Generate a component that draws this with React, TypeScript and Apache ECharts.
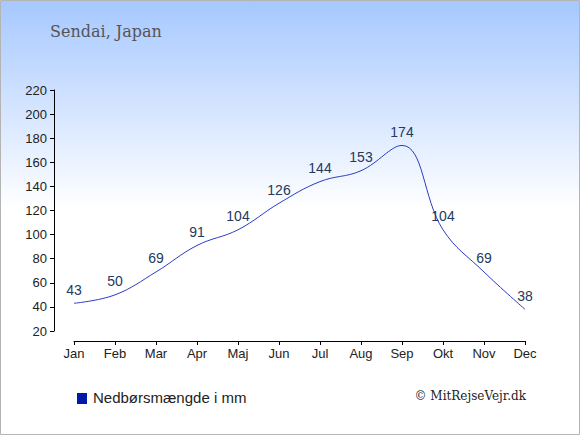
import React, { useEffect, useRef } from "react";
import * as echarts from "echarts";

const months = ["Jan", "Feb", "Mar", "Apr", "Maj", "Jun", "Jul", "Aug", "Sep", "Okt", "Nov", "Dec"];
const precipitation = [43, 50, 69, 91, 104, 126, 144, 153, 174, 104, 69, 38];
const titleText = "Sendai, Japan";
const legendText = "Nedbørsmængde i mm";
const creditText = "© MitRejseVejr.dk";

export default function App() {
  const ref = useRef<HTMLDivElement>(null);
  useEffect(() => {
    document.body.style.margin = "0";
    const chart = echarts.init(ref.current!, null, { renderer: "svg" });
    chart.setOption({
      animation: false,
      graphic: [
        {
          type: "rect",
          z: -10,
          silent: true,
          shape: { x: 0.5, y: 0.5, width: 579, height: 434 },
          style: {
            fill: new echarts.graphic.LinearGradient(0, 0, 0, 1, [
              { offset: 0, color: "#a6c8ff" },
              { offset: 0.48, color: "#ffffff" },
              { offset: 1, color: "#ffffff" },
            ]),
            stroke: "#b4b4b4",
            lineWidth: 1,
          },
        },
        {
          type: "text",
          left: 50,
          top: 23,
          style: { text: titleText, fill: "#555555", fontSize: 16, fontFamily: "DejaVu Serif" },
        },
        {
          type: "rect",
          left: 77,
          top: 393,
          shape: { width: 10, height: 11 },
          style: { fill: "#0019a8" },
        },
        {
          type: "text",
          left: 93,
          top: 390,
          style: { text: legendText, fill: "#222222", fontSize: 15, fontFamily: "Liberation Sans" },
        },
        {
          type: "text",
          right: 54,
          top: 390,
          style: { text: creditText, fill: "#222222", fontSize: 12, fontFamily: "DejaVu Serif" },
        },
      ],
      grid: { left: 74, right: 55, top: 90, bottom: 104 },
      xAxis: {
        type: "category",
        data: months,
        boundaryGap: false,
        offset: 10,
        axisLine: { lineStyle: { color: "#000000", width: 1 } },
        axisTick: { length: 4, alignWithLabel: true, lineStyle: { color: "#000" } },
        axisLabel: { color: "#222222", fontSize: 13, fontFamily: "Liberation Sans", margin: 6 },
        splitLine: { show: false },
      },
      yAxis: {
        type: "value",
        min: 20,
        max: 220,
        interval: 20,
        offset: 20,
        axisLine: { show: true, lineStyle: { color: "#000000", width: 1 } },
        axisTick: { show: true, length: 4, lineStyle: { color: "#000" } },
        axisLabel: { color: "#222222", fontSize: 13, fontFamily: "Liberation Sans", margin: 7 },
        splitLine: { show: false },
      },
      series: [
        {
          type: "line",
          data: precipitation,
          smooth: 0.4,
          showSymbol: true,
          symbol: "circle",
          symbolSize: 1,
          itemStyle: { color: "rgba(0,0,0,0)" },
          lineStyle: { color: "#2b3bc4", width: 1 },
          label: {
            show: true,
            position: "top",
            distance: 6,
            color: "#243a5e",
            fontSize: 14,
            fontFamily: "Liberation Sans",
          },
        },
      ],
    });
    return () => chart.dispose();
  }, []);
  return <div ref={ref} style={{ width: 580, height: 435 }} />;
}
